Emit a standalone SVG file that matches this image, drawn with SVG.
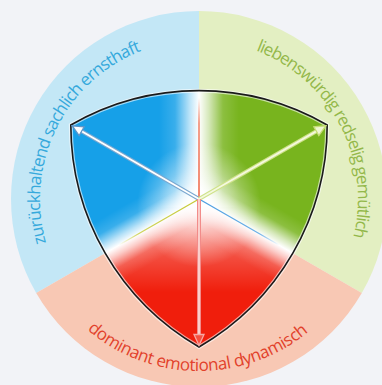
<svg xmlns="http://www.w3.org/2000/svg" width="382" height="385" viewBox="0 0 382 385">
<style>
.lbl{font-family:"Open Sans","Noto Sans",sans-serif;font-size:17px}
.shaftO{stroke-width:4;fill:none}
.shaftI{stroke:#ffffff;stroke-width:1.8;fill:none}
.head{fill:#ffffff;stroke-width:1.3;stroke-linejoin:miter}
</style>
<defs>
<clipPath id="shieldClip"><path d="M70.8,125 A256.4,256.4 0 0 1 327.2,125 A256.4,256.4 0 0 1 199,347 A256.4,256.4 0 0 1 70.8,125 Z"/></clipPath>
<linearGradient id="band" x1="0" y1="0" x2="0" y2="1">
<stop offset="0" stop-color="#fff" stop-opacity="0"/>
<stop offset="0.2" stop-color="#fff" stop-opacity="0.15"/>
<stop offset="0.38" stop-color="#fff" stop-opacity="0.7"/>
<stop offset="0.5" stop-color="#fff" stop-opacity="1"/>
<stop offset="0.62" stop-color="#fff" stop-opacity="0.7"/>
<stop offset="0.8" stop-color="#fff" stop-opacity="0.15"/>
<stop offset="1" stop-color="#fff" stop-opacity="0"/>
</linearGradient>
<radialGradient id="centerGlow" cx="0.5" cy="0.5" r="0.5">
<stop offset="0" stop-color="#fff" stop-opacity="0.9"/>
<stop offset="0.5" stop-color="#fff" stop-opacity="0.45"/>
<stop offset="1" stop-color="#fff" stop-opacity="0"/>
</radialGradient>
<linearGradient id="redFade" gradientUnits="userSpaceOnUse" x1="0" y1="199" x2="0" y2="292">
<stop offset="0" stop-color="#fff" stop-opacity="0.55"/>
<stop offset="1" stop-color="#fff" stop-opacity="0"/>
</linearGradient>
<linearGradient id="gBlueLine" gradientUnits="userSpaceOnUse" x1="199" y1="199" x2="279" y2="245">
<stop offset="0" stop-color="#4a9de0"/><stop offset="0.75" stop-color="#4a9de0" stop-opacity="0.8"/><stop offset="1" stop-color="#4a9de0" stop-opacity="0"/>
</linearGradient>
<linearGradient id="gYelLine" gradientUnits="userSpaceOnUse" x1="199" y1="199" x2="119" y2="245">
<stop offset="0" stop-color="#c4c934"/><stop offset="0.75" stop-color="#c4c934" stop-opacity="0.8"/><stop offset="1" stop-color="#c4c934" stop-opacity="0"/>
</linearGradient>
<linearGradient id="gRedLine" gradientUnits="userSpaceOnUse" x1="199" y1="199" x2="199" y2="98">
<stop offset="0" stop-color="#ef6a4c"/><stop offset="0.75" stop-color="#ef6a4c" stop-opacity="0.8"/><stop offset="1" stop-color="#ef6a4c" stop-opacity="0"/>
</linearGradient>
<path id="pBlue" d="M46.16,242.83 A159,159 0 0 1 142.02,50.56"/>
<path id="pGreen" d="M255.98,50.56 A159,159 0 0 1 353.28,237.47"/>
<path id="pRed" d="M87.3,329.8 A172,172 0 0 0 309.6,330.8"/>
</defs>
<rect width="382" height="385" fill="#f2f3f7"/>
<g id="ring">
<path d="M199,199 L36.19,293 A188,188 0 0 1 199,11 Z" fill="#c3e7f6"/>
<path d="M199,199 L199,11 A188,188 0 0 1 361.81,293 Z" fill="#e3efc2"/>
<path d="M199,199 L361.81,293 A188,188 0 0 1 36.19,293 Z" fill="#f8c8b4"/>
</g>
<g id="labels">
<text class="lbl" fill="#35a9dc"><textPath href="#pBlue" textLength="235" lengthAdjust="spacing">zurückhaltend sachlich ernsthaft</textPath></text>
<text class="lbl" fill="#93b84a"><textPath href="#pGreen" textLength="230" lengthAdjust="spacing">liebenswürdig redselig gemütlich</textPath></text>
<text class="lbl" fill="#e2412b"><textPath href="#pRed" textLength="240" lengthAdjust="spacing">dominant emotional dynamisch</textPath></text>
</g>
<g id="shield">
<g clip-path="url(#shieldClip)">
<rect x="0" y="0" width="400" height="400" fill="#ffffff"/>
<polygon points="199,199 199,0 0,0 0,313.9" fill="#16a0e8"/>
<polygon points="199,199 199,0 398,0 398,313.9" fill="#78b41e"/>
<polygon points="199,199 398,313.9 398,400 0,400 0,313.9" fill="#f01e0c"/>
<polygon points="199,199 398,313.9 398,400 0,400 0,313.9" fill="url(#redFade)"/>
<g transform="translate(199 199) rotate(-90)"><rect x="-8" y="-40" width="200" height="80" fill="url(#band)"/></g>
<g transform="translate(199 199) rotate(150)"><rect x="-8" y="-32" width="200" height="64" fill="url(#band)"/></g>
<g transform="translate(199 199) rotate(30)"><rect x="-8" y="-32" width="200" height="64" fill="url(#band)"/></g>
<circle cx="199" cy="205" r="62" fill="url(#centerGlow)"/>
</g>
<path d="M70.8,125 A256.4,256.4 0 0 1 327.2,125 A256.4,256.4 0 0 1 199,347 A256.4,256.4 0 0 1 70.8,125 Z" fill="none" stroke="#ffffff" stroke-opacity="0.6" stroke-width="4"/>
<path d="M70.8,125 A256.4,256.4 0 0 1 327.2,125 A256.4,256.4 0 0 1 199,347 A256.4,256.4 0 0 1 70.8,125 Z" fill="none" stroke="#1a1a1a" stroke-width="1.6"/>
</g>
<g id="connectors">
<line x1="199" y1="199" x2="279" y2="245" stroke="url(#gBlueLine)" stroke-width="1.3"/>
<line x1="199" y1="199" x2="119" y2="245" stroke="url(#gYelLine)" stroke-width="1.3"/>
<line x1="199" y1="199" x2="199" y2="98" stroke="url(#gRedLine)" stroke-width="1.6"/>
<g transform="translate(199 199) rotate(210)">
<line class="shaftO" x1="0" y1="0" x2="136" y2="0" stroke="#7aa8d0"/>
<line class="shaftI" x1="0" y1="0" x2="136" y2="0"/>
<polygon class="head" points="146.5,0 135.5,-5 135.5,5" stroke="#5d95c8"/>
</g>
<g transform="translate(199 199) rotate(-30)">
<line class="shaftO" x1="0" y1="0" x2="136" y2="0" stroke="#cfe28a"/>
<line class="shaftI" x1="0" y1="0" x2="136" y2="0" style="stroke:#f4f9e0"/>
<polygon class="head" points="146.5,0 135.5,-5 135.5,5" stroke="#c6dc78" style="fill:#eef6d2"/>
</g>
<g transform="translate(199 199) rotate(90)">
<line class="shaftO" x1="0" y1="0" x2="136" y2="0" stroke="#f28c8a"/>
<line class="shaftI" x1="0" y1="0" x2="136" y2="0" style="stroke:#fcd6d2"/>
<polygon class="head" points="146.5,0 135.5,-5 135.5,5" stroke="#f6a8a4" style="fill:#f55040"/>
</g>
</g>
</svg>
